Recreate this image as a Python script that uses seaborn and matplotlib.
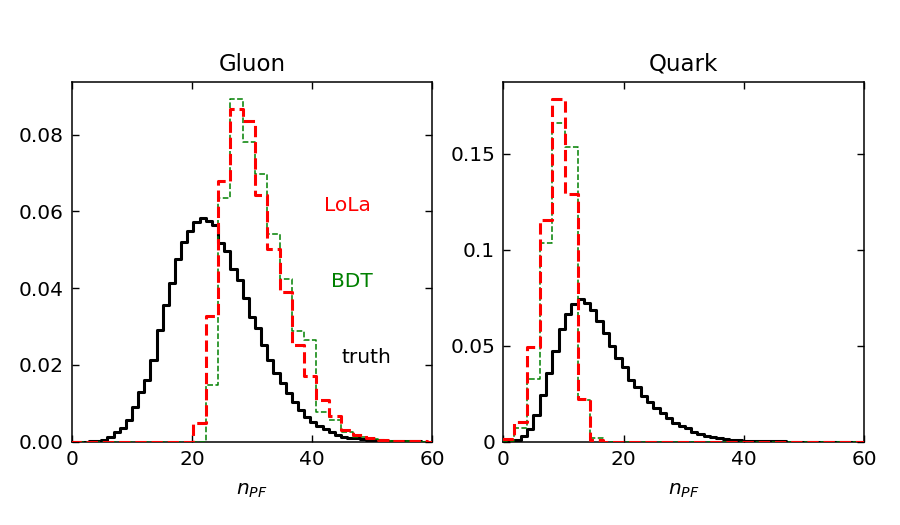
import numpy as np
import pandas as pd
import seaborn as sns
import matplotlib
matplotlib.use("Agg")
import matplotlib.pyplot as plt
from matplotlib.ticker import FormatStrFormatter

# ---- data (densities per bin) ----
# gluon panel: truth in narrow bins, LoLa / BDT in double-width bins
gluon_bin_start = -0.3
gluon_truth_width = 1.025
gluon_pred_width = 2.05

gluon_truth = [0, 0, 0, 0.0001, 0.0001, 0.0003, 0.0011, 0.0024, 0.0036, 0.0056,
               0.0091, 0.0128, 0.0160, 0.0213, 0.0290, 0.0357, 0.0413, 0.0475, 0.0520, 0.0549,
               0.0572, 0.0582, 0.0575, 0.0564, 0.0518, 0.0496, 0.0451, 0.0422, 0.0374, 0.0325,
               0.0296, 0.0251, 0.0213, 0.0178, 0.0152, 0.0126, 0.0104, 0.0082, 0.0065, 0.0052,
               0.0041, 0.0032, 0.0024, 0.0017, 0.0013, 0.0010, 0.0008, 0.0006, 0.0005, 0.0004,
               0.0003, 0.0002, 0.0002, 0.0001, 0.0001, 0.0001, 0.0001, 0, 0, 0]
gluon_lola = [0, 0, 0, 0, 0, 0, 0, 0, 0, 0,
              0.0048, 0.0326, 0.0678, 0.0867, 0.0835, 0.0643, 0.0503, 0.0389, 0.0251, 0.0172,
              0.0109, 0.0067, 0.0030, 0.0017, 0.0009, 0.0004, 0.0002, 0.0001, 0.0001, 0]
gluon_bdt = [0, 0, 0, 0, 0, 0, 0, 0, 0, 0,
             0, 0.0148, 0.0635, 0.0893, 0.0781, 0.0697, 0.0542, 0.0424, 0.0287, 0.0266,
             0.0078, 0.0056, 0.0026, 0.0013, 0.0006, 0.0003, 0.0001, 0.0001, 0, 0]

# quark panel
quark_bin_start = -0.27
quark_truth_width = 1.05
quark_pred_width = 2.1

quark_truth = [0, 0.0002, 0.0010, 0.0030, 0.0067, 0.0139, 0.0240, 0.0357, 0.0470, 0.0588,
               0.0664, 0.0718, 0.0741, 0.0723, 0.0688, 0.0626, 0.0565, 0.0496, 0.0435, 0.0387,
               0.0323, 0.0282, 0.0239, 0.0204, 0.0174, 0.0148, 0.0122, 0.0099, 0.0082, 0.0069,
               0.0052, 0.0040, 0.0031, 0.0023, 0.0017, 0.0012, 0.0009, 0.0006, 0.0004, 0.0003,
               0.0002, 0.0002, 0.0001, 0.0001, 0.0001, 0, 0, 0, 0, 0,
               0, 0, 0, 0, 0, 0, 0, 0]
quark_lola = [0.0012, 0.0104, 0.0495, 0.1155, 0.1785, 0.1288, 0.0220, 0.0006, 0, 0,
              0, 0, 0, 0, 0, 0, 0, 0, 0, 0,
              0, 0, 0, 0, 0, 0, 0, 0, 0]
quark_bdt = [0.0003, 0.0069, 0.0326, 0.1036, 0.1658, 0.1536, 0.0217, 0.0017, 0, 0,
             0, 0, 0, 0, 0, 0, 0, 0, 0, 0,
             0, 0, 0, 0, 0, 0, 0, 0, 0]

panel_titles = ["Gluon", "Quark"]
x_ticks = [0, 20, 40, 60]
gluon_yticks = [0, 0.02, 0.04, 0.06, 0.08]
quark_yticks = [0, 0.05, 0.1, 0.15]


def binned(start, width, values):
    # one row per bin: centre + weight, plus the bin edges
    edges = start + width * np.arange(len(values) + 1)
    df = pd.DataFrame({"n": edges[:-1] + width / 2, "w": values})
    return df, list(edges)


sns.set_style("ticks", {"xtick.direction": "in", "ytick.direction": "in"})
plt.rcParams["font.family"] = ["DejaVu Sans"]
plt.rcParams["mathtext.fontset"] = "dejavusans"
plt.rcParams["text.color"] = "black"
plt.rcParams["axes.labelcolor"] = "black"

fig = plt.figure(figsize=(9, 5.25), dpi=100)
ax1 = fig.add_axes([0.0803, 0.159, 0.4, 0.685])
ax2 = fig.add_axes([0.5594, 0.159, 0.4006, 0.685])

panels = [
    (ax1, gluon_bin_start, gluon_truth_width, gluon_pred_width, gluon_truth, gluon_bdt, gluon_lola),
    (ax2, quark_bin_start, quark_truth_width, quark_pred_width, quark_truth, quark_bdt, quark_lola),
]

for ax, start, tw, pw, truth, bdt, lola in panels:
    df_t, t_edges = binned(start, tw, truth)
    df_b, p_edges = binned(start, pw, bdt)
    df_l, _ = binned(start, pw, lola)
    sns.histplot(data=df_t, x="n", weights="w", bins=t_edges, element="step", fill=False,
                 color="black", linewidth=2.2, zorder=3, ax=ax)
    sns.histplot(data=df_b, x="n", weights="w", bins=p_edges, element="step", fill=False,
                 color="green", linewidth=1.1, linestyle="--", zorder=3, ax=ax)
    sns.histplot(data=df_l, x="n", weights="w", bins=p_edges, element="step", fill=False,
                 color="red", linewidth=2.2, linestyle="--", zorder=3, ax=ax)
    top = max(max(truth), max(bdt), max(lola)) * 1.05
    ax.set_xlim(0, 60)
    ax.set_ylim(0, top)
    ax.set_xticks(x_ticks)
    ax.set_xlabel("$n_{PF}$", fontsize=14.5, labelpad=9)
    ax.set_ylabel("")
    ax.tick_params(which="both", top=True, right=True, length=5, width=1, pad=6,
                   labelsize=14.5, color="black", labelcolor="black")
    for s in ax.spines.values():
        s.set_visible(True)
        s.set_color("black")
        s.set_linewidth(1.1)

ax1.set_yticks(gluon_yticks)
ax1.yaxis.set_major_formatter(FormatStrFormatter("%.2f"))
ax2.set_yticks(quark_yticks)
ax2.yaxis.set_major_formatter(FormatStrFormatter("%g"))

ax1.set_title(panel_titles[0], fontsize=16.5, pad=8)
ax2.set_title(panel_titles[1], fontsize=16.5, pad=8)

ax1.text(45.8, 0.0616, "LoLa", color="red", fontsize=14.5, ha="center", va="center")
ax1.text(46.6, 0.0417, "BDT", color="green", fontsize=14.5, ha="center", va="center")
ax1.text(49.1, 0.0218, "truth", color="black", fontsize=14.5, ha="center", va="center")

fig.savefig("out.png", dpi=100)
